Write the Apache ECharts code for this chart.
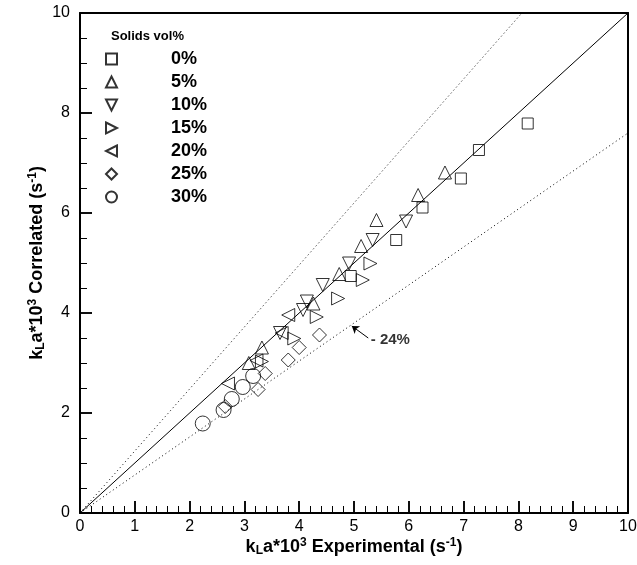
<!DOCTYPE html>
<html>
<head>
<meta charset="utf-8">
<script src="https://cdn.jsdelivr.net/npm/echarts@6/dist/echarts.min.js"></script>
<style>
  html, body { margin: 0; padding: 0; background: #fff; }
  #chart { width: 637px; height: 565px; }
</style>
</head>
<body>
<div id="chart"></div>
<script>
// Legend entries (solids volume fraction)
const seriesNames = ['0%', '5%', '10%', '15%', '20%', '25%', '30%'];

// [experimental, correlated] kLa*10^3 (1/s) for each solids loading
const solids0 = [[4.94, 4.74], [5.77, 5.46], [6.25, 6.11], [6.95, 6.69], [7.28, 7.26], [8.17, 7.79]];
const solids5 = [[3.08, 3.0], [3.32, 3.31], [4.26, 4.19], [4.73, 4.78], [5.13, 5.34], [5.41, 5.86], [6.17, 6.36], [6.66, 6.81]];
const solids10 = [[3.65, 3.6], [4.07, 4.06], [4.14, 4.23], [4.43, 4.56], [4.91, 4.99], [5.34, 5.46], [5.95, 5.83]];
const solids15 = [[3.32, 3.03], [3.91, 3.49], [4.32, 3.92], [4.71, 4.29], [5.16, 4.66], [5.30, 4.99]];
const solids20 = [[2.70, 2.59], [3.22, 3.05], [3.68, 3.6], [3.80, 3.96]];
const solids25 = [[2.65, 2.13], [3.25, 2.47], [3.38, 2.79], [3.80, 3.06], [4.0, 3.31], [4.37, 3.56]];
const solids30 = [[2.24, 1.79], [2.62, 2.06], [2.77, 2.28], [2.97, 2.52], [3.16, 2.74]];

// Parity line and +/-24% deviation lines
const parityLine = [[0, 0], [10, 10]];
const upperLine = [[0, 0], [10 / 1.24, 10]];
const lowerLine = [[0, 0], [10, 7.6]];

// Deviation annotation
const deviationText = '- 24%';
const deviationLabelAt = [5.26, 3.46];
const deviationArrow = [[5.26, 3.5], [4.96, 3.74]];

const FONT = '"Liberation Sans", Arial, Helvetica, sans-serif';

const symbols = [
  'rect',
  'path://M5,0L10,10L0,10Z',
  'path://M0,0L10,0L5,10Z',
  'path://M0,0L10,5L0,10Z',
  'path://M10,0L0,5L10,10Z',
  'diamond',
  'circle'
];
const sizes = [11, 13, 13, 13, 13, 14, 15];
const dataSets = [solids0, solids5, solids10, solids15, solids20, solids25, solids30];

const scatterSeries = dataSets.map((d, i) => ({
  name: seriesNames[i],
  type: 'scatter',
  data: d,
  symbol: symbols[i],
  symbolSize: sizes[i],
  itemStyle: { color: 'rgba(255,255,255,0)', borderColor: '#000', borderWidth: 1 }
}));

const lineStyleBase = { color: '#000', width: 1 };

const titleRich = {
  b: { fontFamily: FONT, fontSize: 18, fontWeight: 'bold', color: '#000', lineHeight: 20, verticalAlign: 'middle' },
  s: { fontFamily: FONT, fontSize: 12, fontWeight: 'bold', color: '#000', lineHeight: 20, verticalAlign: 'bottom' },
  p: { fontFamily: FONT, fontSize: 12, fontWeight: 'bold', color: '#000', lineHeight: 20, verticalAlign: 'top' }
};

// Frame axes (top and right) only draw the border
const frameAxis = (pos) => ({
  type: 'value',
  position: pos,
  min: 0, max: 10,
  axisLine: { show: true, onZero: false, lineStyle: { color: '#000', width: 2 } },
  axisTick: { show: false },
  axisLabel: { show: false },
  splitLine: { show: false }
});

// Tick-only axes laid over the bottom and left edges
const tickAxis = (pos, interval, minorSplit) => ({
  type: 'value',
  position: pos,
  min: 0, max: 10, interval: interval,
  axisLine: { show: false, onZero: false },
  axisTick: { show: true, inside: true, length: 12, lineStyle: { color: '#000', width: 1.5 } },
  minorTick: { show: true, splitNumber: minorSplit, length: 7, lineStyle: { color: '#000', width: 1 } },
  axisLabel: { show: false },
  splitLine: { show: false }
});

const chart = echarts.init(document.getElementById('chart'));

chart.setOption({
  animation: false,
  title: {
    text: 'Solids vol%',
    left: 111,
    top: 30,
    padding: 0,
    textStyle: { fontFamily: FONT, fontSize: 13, fontWeight: 'bold', color: '#000' }
  },
  legend: {
    orient: 'vertical',
    left: 105,
    top: 50,
    itemWidth: 11,
    itemHeight: 11,
    itemGap: 5,
    padding: 0,
    data: seriesNames,
    formatter: name => '{t|' + name + '}',
    textStyle: {
      color: '#000',
      rich: {
        t: { fontFamily: FONT, fontSize: 18, fontWeight: 'bold', color: '#000', padding: [0, 0, 0, 49], lineHeight: 17 }
      }
    }
  },
  grid: { left: 80, right: 9, top: 13, bottom: 52, outerBoundsMode: 'none', containLabel: false },
  xAxis: [
    {
      type: 'value',
      min: 0, max: 10, interval: 1,
      name: '{b|k}{s|L}{b|a*10}{p|3}{b| Experimental (s}{p|-1}{b|)}',
      nameLocation: 'middle',
      nameGap: 24,
      nameMoveOverlap: false,
      nameTextStyle: { rich: titleRich },
      axisLine: { show: true, onZero: false, lineStyle: { color: '#000', width: 2 } },
      axisTick: { show: true, inside: true, length: 12, lineStyle: { color: '#000', width: 1.5 } },
      minorTick: { show: true, splitNumber: 5, length: 7, lineStyle: { color: '#000', width: 1 } },
      splitLine: { show: false },
      axisLabel: { fontFamily: FONT, fontSize: 16, color: '#000', margin: 6 }
    },
    frameAxis('top'),
    tickAxis('bottom', 1, 5)
  ],
  yAxis: [
    {
      type: 'value',
      min: 0, max: 10, interval: 2,
      name: '{b|k}{s|L}{b|a*10}{p|3}{b| Correlated (s}{p|-1}{b|)}',
      nameLocation: 'middle',
      nameRotate: 90,
      nameGap: 33,
      nameMoveOverlap: false,
      nameTextStyle: { rich: titleRich },
      axisLine: { show: true, onZero: false, lineStyle: { color: '#000', width: 2 } },
      axisTick: { show: true, inside: true, length: 12, lineStyle: { color: '#000', width: 1.5 } },
      minorTick: { show: true, splitNumber: 4, length: 7, lineStyle: { color: '#000', width: 1 } },
      splitLine: { show: false },
      axisLabel: { fontFamily: FONT, fontSize: 16, color: '#000', margin: 10 }
    },
    frameAxis('right'),
    tickAxis('left', 2, 4)
  ],
  series: [
    {
      name: 'parity',
      type: 'line',
      data: parityLine,
      symbol: 'none',
      lineStyle: Object.assign({}, lineStyleBase, { type: 'solid' })
    },
    {
      name: 'upper',
      type: 'line',
      data: upperLine,
      symbol: 'none',
      lineStyle: Object.assign({}, lineStyleBase, { type: [1, 3] })
    },
    {
      name: 'lower',
      type: 'line',
      data: lowerLine,
      symbol: 'none',
      lineStyle: Object.assign({}, lineStyleBase, { type: [1, 3] }),
      markLine: {
        silent: true,
        animation: false,
        symbol: ['none', 'arrow'],
        symbolSize: 7,
        label: { show: false },
        lineStyle: { color: '#000', width: 1, type: 'solid' },
        data: [[{ coord: deviationArrow[0] }, { coord: deviationArrow[1] }]]
      }
    },
    {
      name: 'deviation',
      type: 'scatter',
      data: [deviationLabelAt],
      symbol: 'circle',
      symbolSize: 1,
      itemStyle: { color: 'rgba(0,0,0,0)' },
      silent: true,
      label: {
        show: true,
        position: 'right',
        distance: 2,
        formatter: deviationText,
        fontFamily: FONT,
        fontSize: 15,
        fontWeight: 'bold',
        color: '#000'
      }
    }
  ].concat(scatterSeries)
});
</script>
</body>
</html>
